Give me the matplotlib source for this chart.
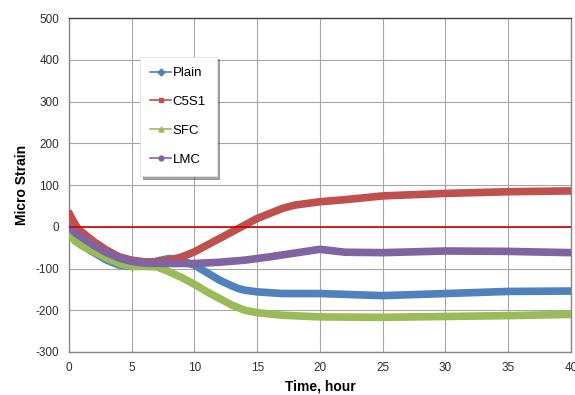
import matplotlib.pyplot as plt

plt.rcParams['font.family'] = ['Liberation Sans', 'DejaVu Sans']
plt.rcParams['axes.unicode_minus'] = False

# time (hour) and micro strain readings
t_plain = [0, 0.5, 1, 2, 3, 4, 5, 6, 6.5, 7, 8, 9, 10, 11, 12, 13, 13.5, 14, 15, 17, 20, 22, 25, 28, 30, 35, 40]
plain = [0, -25, -44, -62, -80, -92, -95, -92, -88, -82, -76, -82, -92, -110, -128, -142, -148, -152, -156, -160, -160, -162, -165, -162, -160, -155, -154]

t_c5s1 = [0, 0.3, 0.7, 1, 2, 3, 4, 5, 6, 7, 8, 9, 10, 11, 12, 13, 14, 15, 16, 17, 18, 20, 22, 25, 30, 35, 40]
c5s1 = [33, 16, -4, -12, -36, -56, -72, -80, -84, -84, -80, -72, -60, -44, -28, -12, 4, 20, 32, 44, 52, 60, 65, 74, 80, 84, 86]

t_sfc = [0, 0.5, 1, 2, 3, 4, 5, 6, 7, 8, 9, 10, 11, 12, 13, 14, 15, 17, 20, 25, 30, 35, 40]
sfc = [-15, -35, -45, -60, -75, -88, -95, -95, -96, -108, -122, -138, -156, -172, -188, -200, -206, -212, -216, -217, -215, -213, -210]

t_lmc = [0, 0.5, 1, 2, 3, 4, 5, 6, 8, 10, 12, 14, 16, 18, 20, 22, 25, 30, 35, 40]
lmc = [0, -15, -25, -45, -62, -75, -83, -87, -88, -88, -85, -80, -72, -63, -54, -61, -62, -58, -59, -62]

fig, ax = plt.subplots(figsize=(5.75, 3.95), dpi=100)
fig.subplots_adjust(left=0.12, right=0.993, top=0.954, bottom=0.109)

series = [
    ('Plain', t_plain, plain, '#4F81BD', 'D'),
    ('C5S1', t_c5s1, c5s1, '#C0504D', 's'),
    ('SFC', t_sfc, sfc, '#9BBB59', '^'),
    ('LMC', t_lmc, lmc, '#8064A2', 'o'),
]
for name, t, v, c, m in series:
    ax.plot(t, v, color=c, lw=5.5, solid_capstyle='round', solid_joinstyle='round', zorder=3)
    # legend proxy: thin line with small marker
    ax.plot([], [], color=c, lw=1.2, marker=m, markersize=3.5, label=name)

ax.axhline(0, color='#CC0000', lw=1.2, zorder=4)

ax.set_xlim(0, 40)
ax.set_ylim(-300, 500)
ax.set_xticks(range(0, 41, 5))
ax.set_yticks(range(-300, 501, 100))
ax.grid(True, color='#A6A6A6', lw=0.8)
ax.set_axisbelow(True)
for s in ax.spines.values():
    s.set_color('#868686')
    s.set_linewidth(1.0)
ax.spines['top'].set_color('#404040')
ax.tick_params(length=0, labelsize=8.5, pad=7)
for lab in ax.get_xticklabels() + ax.get_yticklabels():
    lab.set_color('#303030')

ax.set_xlabel('Time, hour', fontsize=10, fontweight='bold', labelpad=4)
ax.set_ylabel('Micro Strain', fontsize=10, fontweight='bold', labelpad=5)

leg = ax.legend(loc='upper left', bbox_to_anchor=(0.141, 0.885), fontsize=9.5,
                labelspacing=1.25, handlelength=1.6, handletextpad=0.1,
                borderpad=0.8, fancybox=False, shadow=True, framealpha=1,
                edgecolor='#E0E0E0', borderaxespad=0)
leg.get_frame().set_linewidth(0.6)

fig.savefig('out.png', dpi=100)
